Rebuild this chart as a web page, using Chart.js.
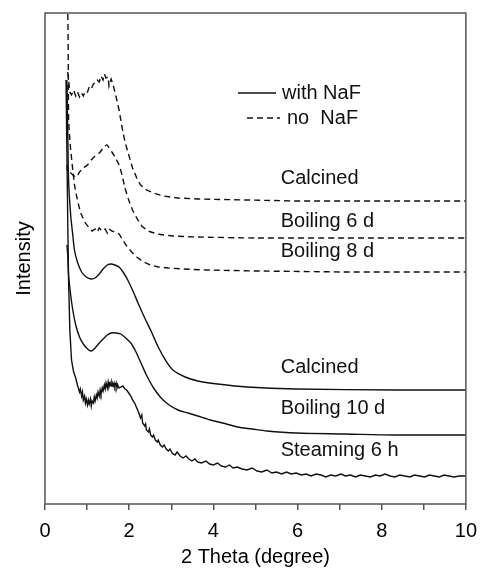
<!DOCTYPE html>
<html>
<head>
<meta charset="utf-8">
<script src="https://cdn.jsdelivr.net/npm/chart.js@4.4.1/dist/chart.umd.min.js"></script>
<style>
  html, body { margin: 0; padding: 0; background: #fff; }
  #c { display: block; }
</style>
</head>
<body>
<canvas id="c" width="486" height="568"></canvas>
<script>
// XRD patterns, 2θ (degree) vs. intensity (a.u.)

// --- no NaF (dashed) ---
const noNaF_calcined_x = [0.54,0.56,0.59,0.63,0.68,0.73,0.77,0.82,0.87,0.91,0.96,1.01,1.05,1.10,1.15,1.19,1.24,1.29,1.33,1.38,1.41,1.45,1.50,1.52,1.57,1.62,1.69,1.76,1.83,1.90,1.99,2.08,2.18,2.27,2.41,2.58,2.81,3.16,3.63,4.80,5.97,8.31,10];
const noNaF_calcined_y = [432,424,412,409,414,408,412,407,411,408,413,412,417,415,420,421,424,422,428,424,430,426,427,418,425,419,407,394,377,362,349,336,326,319,314,311,308,306,305,304,303,303,303];

const noNaF_boil6_x = [0.52,0.54,0.59,0.66,0.75,0.82,0.91,1.01,1.10,1.19,1.29,1.38,1.43,1.48,1.52,1.59,1.66,1.76,1.83,1.90,1.99,2.08,2.18,2.30,2.46,2.69,3.04,3.63,5.04,7.14,10];
const noNaF_boil6_y = [339,332,332,329,327,332,336,339,344,348,351,356,358,359,356,352,347,339,329,316,304,294,286,278,273,270,268,267,266,266,266];

const noNaF_boil8_x = [0.53,0.55,0.56,0.58,0.61,0.66,0.70,0.77,0.84,0.94,1.05,1.12,1.19,1.24,1.29,1.36,1.43,1.48,1.52,1.59,1.66,1.76,1.85,1.94,2.06,2.18,2.34,2.51,2.69,2.93,3.28,3.86,5.04,7.14,10];
const noNaF_boil8_y = [540,460,384,370,354,334,319,304,292,282,276,273,275,272,276,273,275,271,275,273,272,270,264,258,252,247,242,239,237,236,235,234,233,232,232];

// --- with NaF (solid) ---
const withNaF_calcined_x = [0.52,0.54,0.56,0.61,0.66,0.70,0.77,0.87,0.98,1.10,1.19,1.29,1.38,1.48,1.57,1.66,1.76,1.87,1.99,2.11,2.22,2.37,2.53,2.69,2.86,3.04,3.33,3.63,4.10,4.80,5.97,8.31,10];
const withNaF_calcined_y = [419,374,324,289,269,254,242,232,227,225,226,230,235,239,240,239,237,231,222,211,200,186,172,157,144,134,127,123,120,117,115,114,114];

const withNaF_boil10_x = [0.52,0.54,0.56,0.61,0.66,0.73,0.82,0.91,1.01,1.10,1.19,1.29,1.38,1.48,1.57,1.69,1.80,1.92,2.04,2.15,2.27,2.41,2.58,2.76,2.95,3.16,3.40,3.63,3.93,4.22,4.57,4.92,5.27,5.97,7.14,8.31,10];
const withNaF_boil10_y = [259,249,229,209,194,179,167,160,155,153,156,161,165,169,171,171,170,166,161,153,142,129,116,106,99,94,91,88,84,81,77,75,73,71,70,69,69];

const withNaF_steam6_x = [0.50,0.52,0.54,0.56,0.59,0.63,0.68,0.73,0.77,0.82,0.84,0.87,0.89,0.91,0.94,0.96,0.98,1.01,1.03,1.05,1.08,1.10,1.12,1.15,1.17,1.19,1.22,1.24,1.26,1.29,1.31,1.33,1.36,1.38,1.41,1.43,1.45,1.48,1.50,1.52,1.55,1.57,1.59,1.62,1.64,1.66,1.69,1.71,1.73,1.76,1.80,1.85,1.90,1.94,1.99,2.04,2.08,2.13,2.18,2.22,2.27,2.30,2.32,2.37,2.39,2.41,2.46,2.48,2.51,2.55,2.58,2.62,2.67,2.69,2.74,2.79,2.83,2.88,2.93,2.97,3.02,3.09,3.14,3.21,3.28,3.35,3.42,3.49,3.56,3.63,3.72,3.82,3.91,4.00,4.10,4.19,4.29,4.38,4.47,4.57,4.68,4.80,4.92,5.04,5.15,5.27,5.39,5.50,5.62,5.74,5.85,5.97,6.09,6.21,6.32,6.44,6.56,6.67,6.79,6.91,7.03,7.14,7.26,7.38,7.49,7.61,7.73,7.85,7.96,8.08,8.20,8.31,8.43,8.55,8.67,8.78,8.90,9.02,9.13,9.25,9.37,9.48,9.60,9.72,9.84,10];
const withNaF_steam6_y = [424,354,284,224,174,144,132,126,119,112,115,108,112,104,108,101,105,99,104,100,105,98,103,101,107,103,109,106,112,108,114,110,116,113,119,115,121,116,122,117,121,118,122,118,121,117,121,116,119,116,117,118,115,114,111,108,104,101,96,92,86,89,81,78,80,74,72,75,69,67,69,64,62,64,59,57,59,55,53,55,51,49,52,48,46,48,45,43,45,42,41,43,40,39,41,38,37,39,36,37,35,34,36,33,32,34,31,32,30,32,30,31,29,30,28,30,29,27,29,28,30,28,29,27,29,28,27,29,28,30,28,27,29,28,27,29,28,27,29,28,27,29,28,27,28,28];

// curve captions
const captionText = ['Calcined','Boiling 6 d','Boiling 8 d','Calcined','Boiling 10 d','Steaming 6 h'];
const captionX    = [5.6, 5.6, 5.6, 5.6, 5.6, 5.6];
const captionY    = [326, 283, 253, 137, 96, 54];

// legend entries
const legendText = ['with NaF', 'no  NaF'];

// axis ranges
const xMin = 0, xMax = 10, xStep = 1;
const yMin = 0, yMax = 491;

const FONT = '"Liberation Sans", Arial, Helvetica, sans-serif';
const INK = '#111';
const AXIS = '#555';

function pts(xs, ys) { return xs.map((x, i) => ({ x, y: ys[i] })); }

function series(label, xs, ys, dashed, tension) {
  return {
    label,
    data: pts(xs, ys),
    showLine: true,
    borderColor: INK,
    backgroundColor: INK,
    borderWidth: 1.4,
    borderDash: dashed ? [6, 4] : [],
    pointRadius: 0,
    tension: tension,
    fill: false
  };
}

const framePlugin = {
  id: 'frame',
  afterDraw(chart) {
    const { ctx, chartArea: a, scales } = chart;
    ctx.save();
    ctx.strokeStyle = AXIS;
    ctx.lineWidth = 1.5;
    ctx.strokeRect(a.left, a.top, a.right - a.left, a.bottom - a.top);

    // curve captions
    ctx.fillStyle = INK;
    ctx.font = '20px ' + FONT;
    ctx.textAlign = 'left';
    ctx.textBaseline = 'middle';
    captionText.forEach((t, i) => {
      ctx.fillText(t, scales.x.getPixelForValue(captionX[i]), scales.y.getPixelForValue(captionY[i]));
    });

    // legend
    const rows = [
      { y: a.top + 80, x0: a.left + 193, x1: a.left + 231, tx: a.left + 237, dashed: false },
      { y: a.top + 105, x0: a.left + 202, x1: a.left + 235, tx: a.left + 242, dashed: true }
    ];
    ctx.strokeStyle = INK;
    ctx.lineWidth = 1.3;
    rows.forEach((r, i) => {
      ctx.setLineDash(r.dashed ? [6, 4] : []);
      ctx.beginPath();
      ctx.moveTo(r.x0, r.y);
      ctx.lineTo(r.x1, r.y);
      ctx.stroke();
      ctx.setLineDash([]);
      ctx.fillText(legendText[i], r.tx, r.y);
    });
    ctx.restore();
  }
};

new Chart(document.getElementById('c'), {
  type: 'scatter',
  data: {
    datasets: [
      series('Calcined (no NaF)', noNaF_calcined_x, noNaF_calcined_y, true, 0),
      series('Boiling 6 d (no NaF)', noNaF_boil6_x, noNaF_boil6_y, true, 0.2),
      series('Boiling 8 d (no NaF)', noNaF_boil8_x, noNaF_boil8_y, true, 0),
      series('Calcined (with NaF)', withNaF_calcined_x, withNaF_calcined_y, false, 0.3),
      series('Boiling 10 d (with NaF)', withNaF_boil10_x, withNaF_boil10_y, false, 0.3),
      series('Steaming 6 h (with NaF)', withNaF_steam6_x, withNaF_steam6_y, false, 0)
    ]
  },
  options: {
    responsive: false,
    animation: false,
    devicePixelRatio: 1,
    layout: { padding: { top: 13, right: 14, left: 0, bottom: 0 } },
    plugins: { legend: { display: false }, tooltip: { enabled: false } },
    scales: {
      x: {
        type: 'linear',
        min: xMin, max: xMax,
        afterFit(s) { s.height = 64; },
        ticks: {
          stepSize: xStep,
          autoSkip: false,
          maxRotation: 0,
          padding: 9,
          color: '#000',
          font: { family: FONT, size: 20 },
          callback: v => (v % 2 === 0 ? String(v) : '')
        },
        grid: { drawOnChartArea: false, drawTicks: true, tickLength: 6, color: AXIS, tickColor: AXIS, lineWidth: 1.5 },
        border: { display: false },
        title: {
          display: true,
          text: '2 Theta (degree)',
          color: '#000',
          font: { family: FONT, size: 20, lineHeight: 1 },
          padding: { top: 0, bottom: 1 }
        }
      },
      y: {
        type: 'linear',
        min: yMin, max: yMax,
        afterFit(s) { s.width = 45; },
        ticks: { display: false },
        grid: { display: false },
        border: { display: false },
        title: {
          display: true,
          text: 'Intensity',
          color: '#000',
          font: { family: FONT, size: 20, lineHeight: 1 },
          padding: { top: 14, bottom: 0 }
        }
      }
    }
  },
  plugins: [framePlugin]
});
</script>
</body>
</html>
